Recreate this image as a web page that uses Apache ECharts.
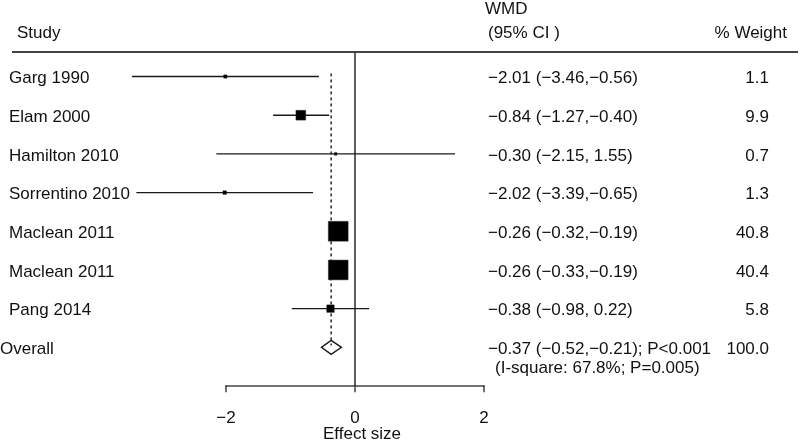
<!DOCTYPE html>
<html>
<head>
<meta charset="utf-8">
<script src="https://cdn.jsdelivr.net/npm/echarts@6/dist/echarts.min.js"></script>
<style>
html,body{margin:0;padding:0;background:#fff;}
#chart{width:800px;height:440px;}
</style>
</head>
<body>
<div id="chart"></div>
<script>
// ---- data ----
const studies = ['Garg 1990','Elam 2000','Hamilton 2010','Sorrentino 2010','Maclean 2011','Maclean 2011','Pang 2014'];
const estimates = [-2.01,-0.84,-0.30,-2.02,-0.26,-0.26,-0.38];
const lower = [-3.46,-1.27,-2.15,-3.39,-0.32,-0.33,-0.98];
const upper = [-0.56,-0.40,1.55,-0.65,-0.19,-0.19,0.22];
const weights = [1.1,9.9,0.7,1.3,40.8,40.4,5.8];
const overallLabel = 'Overall';
const overall = {est:-0.37, lo:-0.52, hi:-0.21};
const overallText = '−0.37 (−0.52,−0.21); P<0.001';
const overallWeight = '100.0';
const overallHet = '(I-square: 67.8%; P=0.005)';
const headers = {study:'Study', wmd:'WMD', ci:'(95% CI )', weight:'% Weight'};
const axisTicks = [-2,0,2];
const axisName = 'Effect size';

// ---- helpers ----
const FONT = '"Liberation Sans", Arial, Helvetica, sans-serif';
const fmt = v => (v < 0 ? '−' : '') + Math.abs(v).toFixed(2);
const ciText = i => fmt(estimates[i]) + ' (' + fmt(lower[i]) + ',' + (upper[i] >= 0 ? ' ' : '') + fmt(upper[i]) + ')';
const N = studies.length;
const rowIdx = studies.map((_, i) => i);
const overallRow = N;

const ciData = rowIdx.map(i => [lower[i], upper[i], i]);
const pointData = rowIdx.map(i => [estimates[i], i, weights[i]]);
const textData = rowIdx.map(i => [i]);

const chart = echarts.init(document.getElementById('chart'), null, {renderer:'canvas'});

const LINE = '#1a1a1a';
const TXT = '#111';

chart.setOption({
  animation: false,
  backgroundColor: '#fff',
  grid: [
    {left: 97, width: 516, top: 52, height: 334, containLabel: false},
    {left: 226, width: 258, top: 385, height: 1, containLabel: false}
  ],
  xAxis: [
    {gridIndex: 0, type: 'value', min: -4, max: 4, show: false},
    {gridIndex: 1, type: 'value', min: axisTicks[0], max: axisTicks[axisTicks.length-1], interval: 2,
     axisLine: {show: true, lineStyle: {color: '#444', width: 1.7}},
     axisTick: {show: true, length: 7, lineStyle: {color: '#444', width: 1.5}},
     axisLabel: {show: true, margin: 25, fontSize: 17, color: TXT, fontFamily: FONT,
                 formatter: v => (v < 0 ? '−' : '') + Math.abs(v)},
     splitLine: {show: false},
     name: axisName, nameLocation: 'middle', nameGap: 41, nameMoveOverlap: false,
     nameTextStyle: {fontSize: 17, color: TXT, fontFamily: FONT, padding: [0,0,0,14]}}
  ],
  yAxis: [
    {gridIndex: 0, type: 'value', min: -0.634, max: 8, inverse: true, show: false},
    {gridIndex: 1, type: 'value', min: 0, max: 1, show: false}
  ],
  graphic: [
    {type: 'line', shape: {x1: 12, y1: 52, x2: 798, y2: 52}, style: {stroke: '#444', lineWidth: 1.8}, z: 10},
    {type: 'text', left: 17, top: 25, style: {text: headers.study, font: '17px ' + FONT, fill: TXT}},
    {type: 'text', left: 485, top: 1, style: {text: headers.wmd, font: '17px ' + FONT, fill: TXT}},
    {type: 'text', left: 488, top: 25, style: {text: headers.ci, font: '17px ' + FONT, fill: TXT}},
    {type: 'text', right: 13, top: 25, style: {text: headers.weight, font: '17px ' + FONT, fill: TXT}}
  ],
  series: [
    // zero line
    {
      type: 'custom', xAxisIndex: 0, yAxisIndex: 0, clip: false,
      data: [[0]],
      renderItem: (params, api) => {
        const a = api.coord([0, -0.634]);
        const b = api.coord([0, 8]);
        return {type: 'line', shape: {x1: a[0], y1: a[1], x2: b[0], y2: b[1]},
                style: {stroke: LINE, lineWidth: 1.4}};
      }
    },
    // overall dashed line
    {
      type: 'custom', xAxisIndex: 0, yAxisIndex: 0, clip: false,
      data: [[overall.est]],
      renderItem: (params, api) => {
        const a = api.coord([api.value(0), -0.08]);
        const b = api.coord([api.value(0), overallRow - 0.05]);
        return {type: 'line', shape: {x1: a[0], y1: a[1], x2: b[0], y2: b[1]},
                style: {stroke: LINE, lineWidth: 1.4, lineDash: [3, 3]}};
      }
    },
    // CI lines
    {
      type: 'custom', xAxisIndex: 0, yAxisIndex: 0, clip: false, z: 2,
      data: ciData,
      renderItem: (params, api) => {
        const a = api.coord([api.value(0), api.value(2)]);
        const b = api.coord([api.value(1), api.value(2)]);
        return {type: 'line', shape: {x1: a[0], y1: a[1], x2: b[0], y2: b[1]},
                style: {stroke: LINE, lineWidth: 1.4}};
      }
    },
    // point estimates (squares sized by weight)
    {
      type: 'scatter', xAxisIndex: 0, yAxisIndex: 0,
      symbol: 'rect',
      symbolSize: d => Math.sqrt(d[2]) * 3.1,
      itemStyle: {color: '#000', opacity: 1, borderColor: '#222', borderWidth: 0.5},
      emphasis: {disabled: true},
      data: pointData, z: 8
    },
    // overall diamond
    {
      type: 'custom', xAxisIndex: 0, yAxisIndex: 0, clip: false, z: 6,
      data: [[overall.lo, overall.est, overall.hi, overallRow]],
      renderItem: (params, api) => {
        const y = api.value(3);
        const l = api.coord([api.value(0), y]);
        const c = api.coord([api.value(1), y]);
        const r = api.coord([api.value(2), y]);
        const h = 7;
        return {type: 'polygon',
                shape: {points: [[l[0], l[1]], [c[0], c[1]-h], [r[0], r[1]], [c[0], c[1]+h]]},
                style: {fill: 'none', stroke: LINE, lineWidth: 1.4}};
      }
    },
    // text columns
    {
      type: 'custom', xAxisIndex: 0, yAxisIndex: 0, clip: false,
      data: textData,
      renderItem: (params, api) => {
        const i = api.value(0);
        const y = api.coord([0, i])[1] + 2;
        return {type: 'group', children: [
          {type: 'text', x: 9, y: y, style: {text: studies[i], font: '17px ' + FONT, fill: TXT, verticalAlign: 'middle', align: 'left'}},
          {type: 'text', x: 488, y: y, style: {text: ciText(i), font: '17px ' + FONT, fill: TXT, verticalAlign: 'middle', align: 'left'}},
          {type: 'text', x: 769, y: y, style: {text: weights[i].toFixed(1), font: '17px ' + FONT, fill: TXT, verticalAlign: 'middle', align: 'right'}}
        ]};
      }
    },
    {
      type: 'custom', xAxisIndex: 0, yAxisIndex: 0, clip: false,
      data: [[overallRow]],
      renderItem: (params, api) => {
        const y = api.coord([0, api.value(0)])[1] + 2;
        return {type: 'group', children: [
          {type: 'text', x: 0, y: y, style: {text: overallLabel, font: '17px ' + FONT, fill: TXT, verticalAlign: 'middle', align: 'left'}},
          {type: 'text', x: 488, y: y, style: {text: overallText, font: '17px ' + FONT, fill: TXT, verticalAlign: 'middle', align: 'left'}},
          {type: 'text', x: 769, y: y, style: {text: overallWeight, font: '17px ' + FONT, fill: TXT, verticalAlign: 'middle', align: 'right'}},
          {type: 'text', x: 495, y: y + 19, style: {text: overallHet, font: '17px ' + FONT, fill: TXT, verticalAlign: 'middle', align: 'left'}}
        ]};
      }
    }
  ]
});
</script>
</body>
</html>
